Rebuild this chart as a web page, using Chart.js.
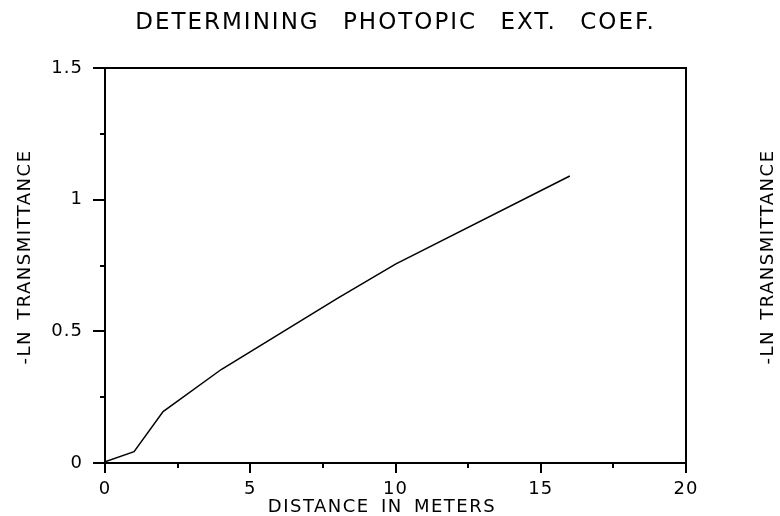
<!DOCTYPE html>
<html>
<head>
<meta charset="utf-8">
<script src="https://cdn.jsdelivr.net/npm/chart.js@4"></script>
<style>
  html, body { margin: 0; padding: 0; background: #fff; }
  #wrap { width: 780px; height: 516px; }
</style>
</head>
<body>
<div id="wrap"><canvas id="chart" width="780" height="516"></canvas></div>
<script>
(function () {
  "use strict";

  // readings
  var distance = [0, 1, 2, 4, 8, 10, 16];
  var lnTrans = [0.005, 0.043, 0.195, 0.355, 0.625, 0.755, 1.09];
  var xTicks = [0, 5, 10, 15, 20];
  var xMinor = [2.5, 7.5, 12.5, 17.5];
  var yTicks = [0, 0.5, 1, 1.5];
  var yMinor = [0.25, 0.75, 1.25];
  var titleText = "DETERMINING PHOTOPIC EXT. COEF.";
  var xTitle = "DISTANCE IN METERS";
  var yTitle = "-LN TRANSMITTANCE";

  var FONT = "'DejaVu Sans', sans-serif";

  var points = distance.map(function (d, i) {
    return { x: d, y: lnTrans[i] };
  });

  var framePlugin = {
    id: "frame",
    beforeDraw: function (chart) {
      chart.ctx.letterSpacing = "1px";
    },
    afterDraw: function (chart) {
      var ctx = chart.ctx;
      var a = chart.chartArea;
      var xs = chart.scales.x;
      var ys = chart.scales.y;
      ctx.save();
      ctx.strokeStyle = "#000";
      ctx.lineWidth = 2;
      ctx.strokeRect(a.left, a.top, a.right - a.left, a.bottom - a.top);

      ctx.beginPath();
      xTicks.forEach(function (v) {
        var p = Math.round(xs.getPixelForValue(v));
        ctx.moveTo(p, a.bottom);
        ctx.lineTo(p, a.bottom + 10);
      });
      xMinor.forEach(function (v) {
        var p = Math.round(xs.getPixelForValue(v));
        ctx.moveTo(p, a.bottom);
        ctx.lineTo(p, a.bottom + 5);
      });
      yTicks.forEach(function (v) {
        var p = Math.round(ys.getPixelForValue(v));
        ctx.moveTo(a.left, p);
        ctx.lineTo(a.left - 12, p);
      });
      yMinor.forEach(function (v) {
        var p = Math.round(ys.getPixelForValue(v));
        ctx.moveTo(a.left, p);
        ctx.lineTo(a.left - 5, p);
      });
      ctx.stroke();

      ctx.fillStyle = "#000";
      ctx.textBaseline = "alphabetic";
      ctx.textAlign = "center";

      ctx.font = "23px " + FONT;
      ctx.letterSpacing = "2px";
      ctx.wordSpacing = "14px";
      ctx.fillText(titleText, (a.left + a.right) / 2, 29);

      ctx.font = "18px " + FONT;
      ctx.letterSpacing = "1.5px";
      ctx.wordSpacing = "4px";
      ctx.fillText(xTitle, 382, 512);

      ctx.wordSpacing = "3px";
      [30, 773].forEach(function (bx) {
        ctx.save();
        ctx.translate(bx, 257);
        ctx.rotate(-Math.PI / 2);
        ctx.fillText(yTitle, 0, 0);
        ctx.restore();
      });
      ctx.restore();
    }
  };

  new Chart(document.getElementById("chart"), {
    type: "scatter",
    data: {
      datasets: [{
        data: points,
        showLine: true,
        borderColor: "#000",
        borderWidth: 1.5,
        pointRadius: 0,
        fill: false,
        tension: 0
      }]
    },
    options: {
      responsive: false,
      animation: false,
      devicePixelRatio: 1,
      layout: { padding: { top: 68, right: 94, left: 0, bottom: 0 } },
      plugins: {
        legend: { display: false },
        tooltip: { enabled: false },
        title: { display: false }
      },
      scales: {
        x: {
          type: "linear",
          min: 0,
          max: 20,
          afterBuildTicks: function (scale) {
            scale.ticks = xTicks.map(function (v) { return { value: v }; });
          },
          afterFit: function (scale) { scale.height = 53; },
          grid: { display: false, drawTicks: false },
          border: { display: false },
          ticks: {
            color: "#000",
            padding: 16,
            maxRotation: 0,
            font: { family: FONT, size: 18 },
            callback: function (v) { return String(v); }
          }
        },
        y: {
          type: "linear",
          min: 0,
          max: 1.5,
          afterBuildTicks: function (scale) {
            scale.ticks = yTicks.map(function (v) { return { value: v }; });
          },
          afterFit: function (scale) { scale.width = 105; },
          grid: { display: false, drawTicks: false },
          border: { display: false },
          ticks: {
            color: "#000",
            padding: 22,
            font: { family: FONT, size: 18 },
            callback: function (v) { return String(v); }
          }
        }
      }
    },
    plugins: [framePlugin]
  });
})();
</script>
</body>
</html>
